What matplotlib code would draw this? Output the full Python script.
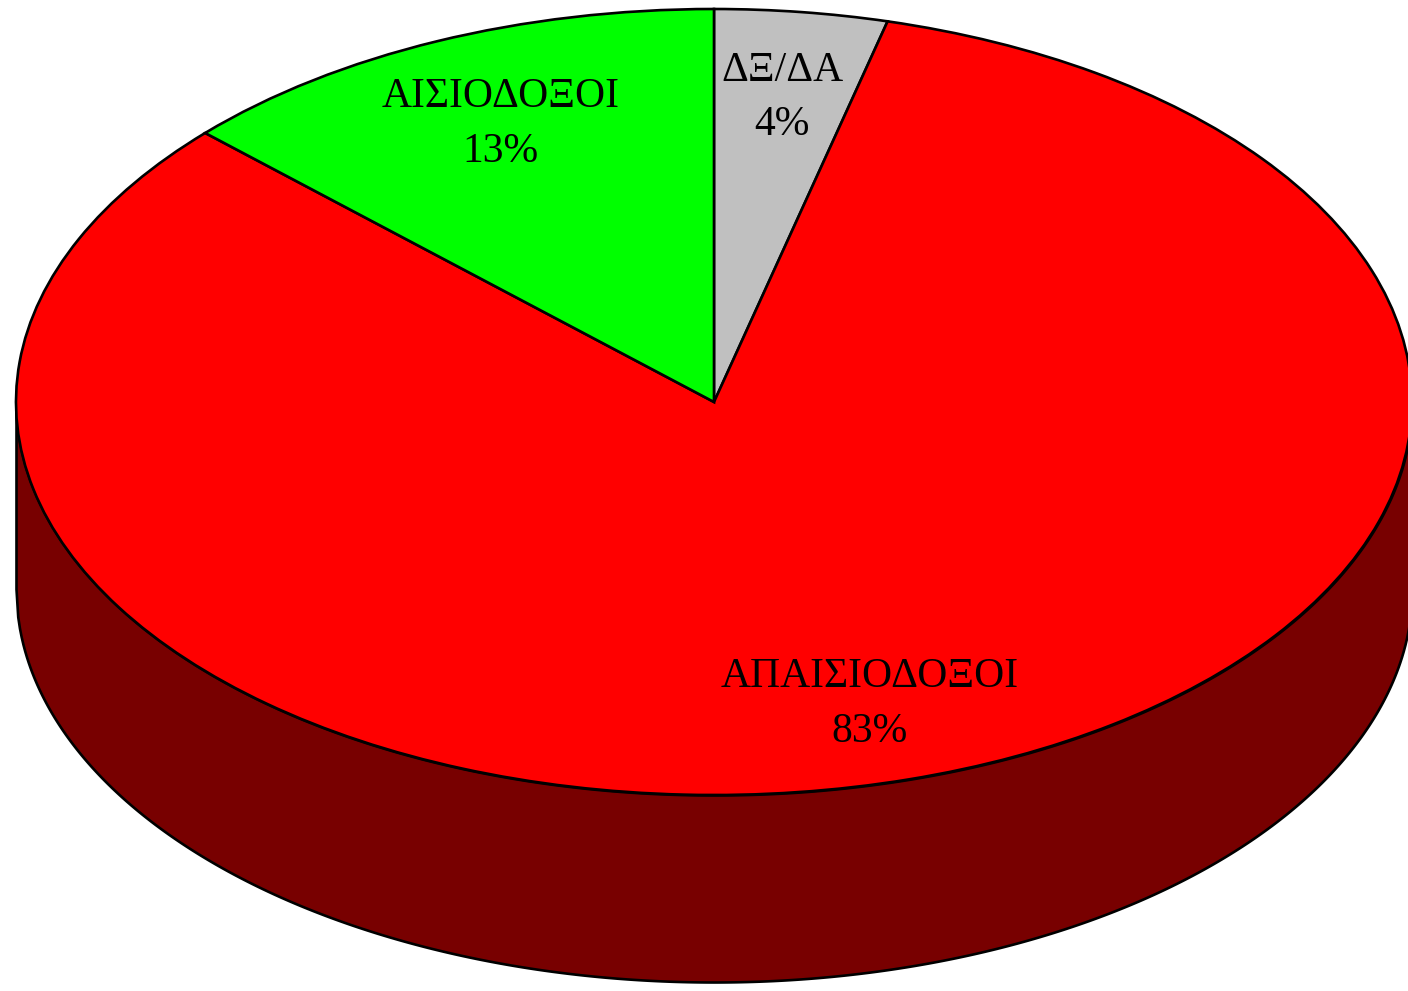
import numpy as np
import matplotlib
matplotlib.use("Agg")
import matplotlib.pyplot as plt

labels = ["ΔΞ/ΔΑ", "ΑΠΑΙΣΙΟΔΟΞΟΙ", "ΑΙΣΙΟΔΟΞΟΙ"]
values = [4, 83, 13]
colors = ["#C0C0C0", "#FF0000", "#00FF00"]
side_color = "#780000"

W, H = 1408, 991
cx, cy = 714, 402          # pie centre in pixels
a, b = 698, 393            # ellipse semi-axes in pixels
depth = 187                # thickness in pixels

fig = plt.figure(figsize=(W / 100, H / 100), dpi=100)
ax = fig.add_axes([0, 0, 1, 1])

# side of the 3D pie (front half, extruded)
d = depth / b
xs = np.linspace(-1, 1, 800)
ytop = -np.sqrt(np.clip(1 - xs**2, 0, None))
ax.fill_between(xs, ytop, ytop - d, facecolor=side_color, edgecolor="black",
                linewidth=1.9, zorder=1)

wedges, _ = ax.pie(values, colors=colors, startangle=90, counterclock=False,
                   radius=1, center=(0, 0),
                   wedgeprops=dict(edgecolor="black", linewidth=1.9))
for w in wedges:
    w.set_zorder(2)

label_r = [0.78, 0.80, 0.77]
for w, lab, v, r in zip(wedges, labels, values, label_r):
    mid = np.deg2rad((w.theta1 + w.theta2) / 2)
    ax.text(r * np.cos(mid), r * np.sin(mid), f"{lab}\n{v}%",
            ha="center", va="center", fontsize=30, family="Liberation Serif",
            linespacing=1.55, zorder=3)

ax.set_aspect("auto")
ax.set_xlim(-cx / a, (W - cx) / a)
ax.set_ylim(-(H - cy) / b, cy / b)
ax.axis("off")

fig.savefig("out.png", dpi=100, facecolor="white")
